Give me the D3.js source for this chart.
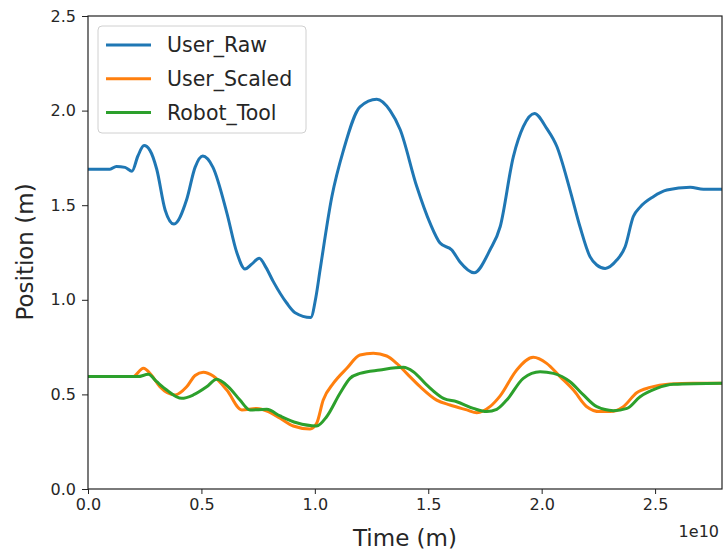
<!DOCTYPE html>
<html>
<head>
<meta charset="utf-8">
<script src="https://cdn.jsdelivr.net/npm/d3@7"></script>
<style>
  body { margin: 0; background: #fff; }
  text { font-family: "DejaVu Sans", sans-serif; fill: #262626; }
</style>
</head>
<body>
<div id="chart"></div>
<script>
// time values in units of 1e10 (offset label drawn separately)
let rawT = [0, 0.097, 0.125, 0.163, 0.194, 0.22, 0.247, 0.273, 0.303, 0.34, 0.379, 0.435, 0.472, 0.506, 0.551, 0.612, 0.656, 0.692, 0.723, 0.755, 0.785, 0.817, 0.876, 0.913, 0.982, 1.005, 1.023, 1.075, 1.126, 1.199, 1.273, 1.332, 1.376, 1.449, 1.508, 1.552, 1.604, 1.64, 1.702, 1.772, 1.817, 1.875, 1.919, 1.968, 2.022, 2.067, 2.125, 2.169, 2.213, 2.243, 2.28, 2.331, 2.368, 2.404, 2.434, 2.492, 2.552, 2.655, 2.713, 2.795];
let rawV = [1.69, 1.69, 1.705, 1.70, 1.68, 1.76, 1.815, 1.79, 1.69, 1.475, 1.40, 1.53, 1.70, 1.76, 1.70, 1.46, 1.25, 1.163, 1.19, 1.22, 1.17, 1.096, 0.983, 0.932, 0.907, 1.016, 1.157, 1.545, 1.79, 2.02, 2.06, 2.00, 1.90, 1.60, 1.405, 1.30, 1.263, 1.20, 1.143, 1.263, 1.386, 1.756, 1.915, 1.985, 1.906, 1.81, 1.58, 1.386, 1.228, 1.184, 1.166, 1.21, 1.28, 1.44, 1.49, 1.545, 1.58, 1.595, 1.584, 1.584];

let scaledT = [0, 0.198, 0.244, 0.281, 0.317, 0.384, 0.435, 0.472, 0.508, 0.552, 0.612, 0.678, 0.744, 0.795, 0.847, 0.905, 0.979, 1.008, 1.037, 1.082, 1.141, 1.199, 1.258, 1.317, 1.361, 1.405, 1.464, 1.537, 1.596, 1.67, 1.714, 1.772, 1.817, 1.89, 1.963, 2.022, 2.081, 2.14, 2.199, 2.257, 2.302, 2.36, 2.419, 2.478, 2.566, 2.669, 2.795];
let scaledV = [0.594, 0.594, 0.638, 0.60, 0.54, 0.497, 0.54, 0.60, 0.617, 0.597, 0.523, 0.418, 0.426, 0.409, 0.374, 0.333, 0.317, 0.347, 0.47, 0.559, 0.638, 0.708, 0.717, 0.703, 0.664, 0.611, 0.541, 0.47, 0.444, 0.418, 0.403, 0.435, 0.492, 0.629, 0.696, 0.664, 0.594, 0.523, 0.435, 0.409, 0.409, 0.435, 0.509, 0.537, 0.555, 0.559, 0.559];

let toolT = [0, 0.22, 0.266, 0.303, 0.347, 0.413, 0.464, 0.523, 0.567, 0.619, 0.67, 0.714, 0.788, 0.847, 0.92, 1.008, 1.052, 1.111, 1.155, 1.199, 1.287, 1.39, 1.434, 1.493, 1.567, 1.626, 1.699, 1.758, 1.802, 1.846, 1.919, 1.993, 2.052, 2.125, 2.184, 2.243, 2.316, 2.376, 2.434, 2.507, 2.581, 2.795];
let toolV = [0.594, 0.594, 0.606, 0.567, 0.523, 0.479, 0.497, 0.54, 0.58, 0.54, 0.47, 0.418, 0.421, 0.386, 0.35, 0.333, 0.382, 0.506, 0.585, 0.611, 0.629, 0.643, 0.62, 0.55, 0.479, 0.461, 0.426, 0.409, 0.421, 0.47, 0.585, 0.62, 0.611, 0.567, 0.497, 0.435, 0.414, 0.426, 0.488, 0.532, 0.553, 0.559];

let seriesNames = ["User_Raw", "User_Scaled", "Robot_Tool"];
let seriesColors = ["#1f77b4", "#ff7f0e", "#2ca02c"];
let xTicks = [0, 0.5, 1.0, 1.5, 2.0, 2.5];
let yTicks = [0, 0.5, 1.0, 1.5, 2.0, 2.5];

var width = 724,
    height = 553;

var svg = d3.select('#chart').append('svg')
    .attr('width', width)
    .attr('height', height);

let plotL = 88, plotR = 722, plotT = 16, plotB = 489;

let scaleX = d3.scaleLinear().domain([0, 2.795]).range([plotL, plotR]);
let scaleY = d3.scaleLinear().domain([0, 2.5]).range([plotB, plotT]);

let series = [
    rawT.map((t, i) => ({t: t, v: rawV[i]})),
    scaledT.map((t, i) => ({t: t, v: scaledV[i]})),
    toolT.map((t, i) => ({t: t, v: toolV[i]}))
];

let line = d3.line()
    .x(d => scaleX(d.t))
    .y(d => scaleY(d.v))
    .curve(d3.curveMonotoneX);

let g = svg.append('g');
g.selectAll('.series').data(series).enter()
    .append('path')
    .attr('class', 'series')
    .attr('d', line)
    .attr('fill', 'none')
    .attr('stroke', (d, i) => seriesColors[i])
    .attr('stroke-width', 3)
    .attr('stroke-linejoin', 'round');

// axes
let xAxis = svg.append('g')
    .attr('transform', `translate(0,${plotB})`)
    .call(d3.axisBottom(scaleX).tickValues(xTicks).tickFormat(d3.format('.1f')).tickSize(5).tickPadding(5));
let yAxis = svg.append('g')
    .attr('transform', `translate(${plotL},0)`)
    .call(d3.axisLeft(scaleY).tickValues(yTicks).tickFormat(d3.format('.1f')).tickSize(6).tickPadding(6));

[xAxis, yAxis].forEach(a => {
    a.select('.domain').remove();
    a.selectAll('text').style('font-size', '16px').attr('fill', '#262626');
    a.selectAll('line').attr('stroke', '#222');
});

// frame
svg.append('rect')
    .attr('x', plotL).attr('y', plotT)
    .attr('width', plotR - plotL).attr('height', plotB - plotT)
    .attr('fill', 'none')
    .attr('stroke', '#222')
    .attr('stroke-width', 1.2);

// labels
svg.append('text')
    .attr('x', 405).attr('y', 546)
    .attr('text-anchor', 'middle')
    .style('font-size', '23px')
    .text('Time (m)');

svg.append('text')
    .attr('transform', 'translate(33,252) rotate(-90)')
    .attr('text-anchor', 'middle')
    .style('font-size', '23px')
    .text('Position (m)');

svg.append('text')
    .attr('x', 719).attr('y', 537)
    .attr('text-anchor', 'end')
    .style('font-size', '16px')
    .text('1e10');

// legend
let legend = svg.append('g');
legend.append('rect')
    .attr('x', 98).attr('y', 26)
    .attr('width', 208).attr('height', 107)
    .attr('rx', 4)
    .attr('fill', 'white').attr('fill-opacity', 0.8)
    .attr('stroke', '#d0d0d0');

let rows = legend.selectAll('.lg').data(seriesNames).enter()
    .append('g')
    .attr('transform', (d, i) => `translate(0,${45 + i * 33.8})`);
rows.append('line')
    .attr('x1', 106).attr('x2', 151)
    .attr('stroke', (d, i) => seriesColors[i])
    .attr('stroke-width', 3);
rows.append('text')
    .attr('x', 167).attr('dy', '0.36em')
    .style('font-size', '20.5px')
    .text(d => d);
</script>
</body>
</html>
